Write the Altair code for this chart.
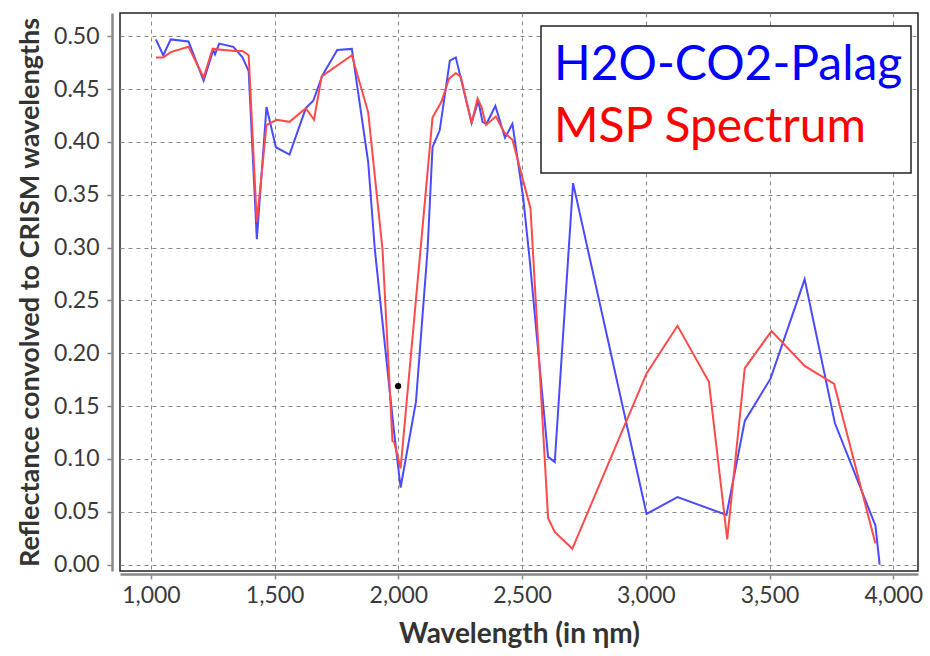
import altair as alt
import pandas as pd

# H2O-CO2-Palag (blue)
blue_w = [1020, 1050, 1080, 1152, 1213, 1252, 1259, 1276, 1333, 1370, 1395, 1428, 1467, 1505, 1560,
          1626, 1656, 1693, 1753, 1812, 1878, 1905, 1981, 2009, 2071, 2118, 2138, 2167, 2208, 2232,
          2296, 2323, 2340, 2356, 2392, 2431, 2461, 2504, 2531, 2605, 2632, 2706, 3003, 3128, 3326,
          3400, 3504, 3642, 3764, 3928, 3945]
blue_v = [0.497, 0.482, 0.497, 0.495, 0.458, 0.487, 0.483, 0.493, 0.490, 0.480, 0.467, 0.308, 0.433, 0.395, 0.388,
          0.432, 0.439, 0.463, 0.487, 0.488, 0.381, 0.298, 0.129, 0.073, 0.154, 0.298, 0.395, 0.411, 0.477, 0.480,
          0.418, 0.439, 0.419, 0.417, 0.434, 0.404, 0.417, 0.348, 0.288, 0.102, 0.097, 0.361, 0.048, 0.064, 0.047,
          0.136, 0.176, 0.270, 0.134, 0.037, 0.000]

# MSP Spectrum (red)
red_w = [1020, 1050, 1080, 1152, 1213, 1249, 1339, 1370, 1395, 1428, 1467, 1508, 1560, 1626, 1659,
         1690, 1812, 1878, 1936, 1976, 1983, 2009, 2138, 2174, 2205, 2232, 2252, 2296, 2320, 2336,
         2354, 2394, 2428, 2461, 2534, 2605, 2632, 2703, 3003, 3128, 3255, 3329, 3400, 3508, 3642,
         3761, 3928]
red_v = [0.480, 0.480, 0.485, 0.490, 0.461, 0.488, 0.486, 0.486, 0.482, 0.324, 0.416, 0.421, 0.419, 0.432, 0.421,
         0.462, 0.482, 0.428, 0.298, 0.117, 0.116, 0.091, 0.423, 0.438, 0.460, 0.465, 0.462, 0.418, 0.441, 0.433,
         0.416, 0.424, 0.409, 0.402, 0.337, 0.044, 0.031, 0.015, 0.181, 0.226, 0.173, 0.024, 0.186, 0.221, 0.188,
         0.171, 0.020]

dot_w = [1999]
dot_v = [0.169]

series_names = ["H2O-CO2-Palag", "MSP Spectrum"]
line_colors = ["#4a4aff", "#ff4a4a"]
legend_colors = ["#0000ff", "#ff0000"]
x_ticks = [1000, 1500, 2000, 2500, 3000, 3500, 4000]
y_ticks = [0.0, 0.05, 0.10, 0.15, 0.20, 0.25, 0.30, 0.35, 0.40, 0.45, 0.50]

df = pd.concat([
    pd.DataFrame({"w": blue_w, "v": blue_v, "s": series_names[0], "o": range(len(blue_w))}),
    pd.DataFrame({"w": red_w, "v": red_v, "s": series_names[1], "o": range(len(red_w))}),
])
dots = pd.DataFrame({"w": dot_w, "v": dot_v})
legend_df = pd.DataFrame({"s": series_names, "c": legend_colors, "row": [0, 1]})

FONT = "Lato"

x_enc = alt.X("w:Q", scale=alt.Scale(domain=[875, 4100], nice=False, zero=False),
              axis=alt.Axis(title="Wavelength (in ηm)", values=x_ticks, format=",.0f",
                            offset=3, titlePadding=13, titleFontSize=28))
y_enc = alt.Y("v:Q", scale=alt.Scale(domain=[-0.006, 0.522], nice=False, zero=False),
              axis=alt.Axis(title="Reflectance convolved to CRISM wavelengths", values=y_ticks,
                            format=".2f", offset=8, titlePadding=9, labelPadding=8))

lines = alt.Chart(df).mark_line(strokeWidth=2).encode(
    x=x_enc,
    y=y_enc,
    order="o:Q",
    color=alt.Color("s:N", scale=alt.Scale(domain=series_names, range=line_colors), legend=None),
)

dot = alt.Chart(dots).mark_circle(size=40, color="black", opacity=1).encode(
    x=alt.X("w:Q"), y=alt.Y("v:Q"))

# manual legend box (positions in pixels of the plot area)
legend_box = alt.Chart(legend_df.head(1)).mark_rect(
    fill="white", stroke="#222222", strokeWidth=1.5
).encode(x=alt.value(421), x2=alt.value(791), y=alt.value(13), y2=alt.value(160))

legend_text = alt.Chart(legend_df).transform_calculate(
    ly="67 + 62 * datum.row"
).mark_text(align="left", baseline="alphabetic", font=FONT, fontSize=48).encode(
    x=alt.value(434),
    y=alt.Y("ly:Q", scale=None),
    text="s:N",
    color=alt.Color("c:N", scale=None),
)

chart = alt.layer(lines, dot, legend_box, legend_text).properties(
    width=798, height=558,
    autosize=alt.AutoSizeParams(type="none"),
    padding={"left": 120, "top": 13, "right": 12, "bottom": 85},
).configure_view(
    stroke="#222222", strokeWidth=1.5
).configure_axis(
    grid=True, gridColor="#888888", gridDash=[4, 4], gridWidth=1,
    domainColor="#888888", domainWidth=2.5,
    tickColor="#888888", tickSize=5, tickWidth=1.5,
    labelFont=FONT, labelFontSize=23, labelColor="#3a3a3a", labelPadding=5,
    titleFont=FONT, titleFontSize=27, titleFontWeight="bold", titleColor="#333333",
)

chart.save("out.html", embed_options={"renderer": "svg", "actions": False})
